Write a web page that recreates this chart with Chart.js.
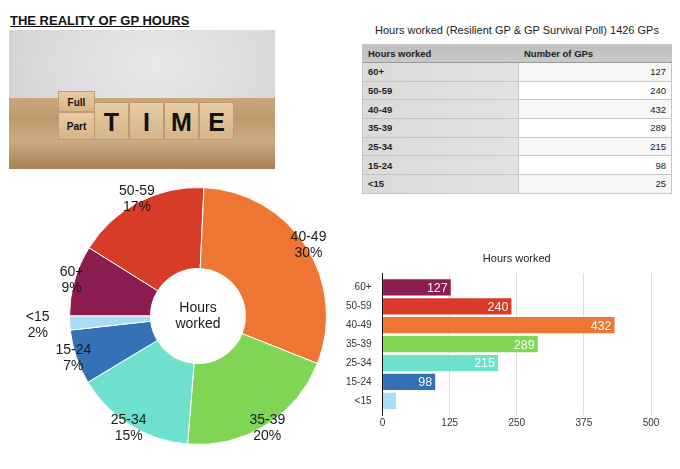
<!DOCTYPE html>
<html>
<head>
<meta charset="utf-8">
<script src="https://cdn.jsdelivr.net/npm/chart.js@4.4.1/dist/chart.umd.min.js"></script>
<style>
  html, body { margin: 0; padding: 0; background: #fff; }
  body { width: 680px; height: 469px; position: relative; overflow: hidden; font-family: "Liberation Sans", Arial, sans-serif; color: #222; }
  #heading { position: absolute; left: 10px; top: 13px; font-size: 13px; font-weight: bold; text-decoration: underline; color: #111; }
  #photo { position: absolute; left: 9px; top: 30px; width: 266px; height: 139px; overflow: hidden;
    background: radial-gradient(ellipse at 55% 25%, #e8e8e8, #dadada 55%, #cbcbcb); }
  #desk { position: absolute; left: 0; top: 68px; width: 266px; height: 71px;
    background: linear-gradient(to bottom, #caa67c, #bf9a6f 30%, #cdab82 60%, #b68f64 85%, #a88157); }
  .blk { position: absolute; box-sizing: border-box; border: 1px solid #bf9a6e;
    background: linear-gradient(to bottom, #e8cca3, #d6b488); text-align: center; font-weight: bold; color: #111; }
  .big { font-size: 25px; line-height: 38px; }
  .small { font-size: 10px; }
  #tblTitle { position: absolute; left: 340px; width: 354px; top: 24px; text-align: center; font-size: 11px; color: #222; }
  #tbl { position: absolute; left: 362px; top: 44px; width: 310px; border-collapse: collapse; font-size: 9.5px; }
  #tbl th, #tbl td { padding: 0 5px; border: 1px solid #c6c6c6; }
  #tbl th { height: 17px; background: linear-gradient(to bottom, #bfbfbf, #c9c9c9); text-align: left; font-weight: bold; color: #222; border-bottom: 1px solid #9a9a9a; }
  #tbl td { height: 17.7px; }
  #tbl td.cat { font-weight: bold; background: linear-gradient(to right, #dadada, #e2e2e2); width: 145px; }
  #tbl td.num { text-align: right; background: #fff; }
  #tbl tr:nth-child(even) td.num { background: #f6f6f6; }
  #donutBox { position: absolute; left: 0; top: 175px; width: 340px; height: 282px; }
  #barBox { position: absolute; left: 330px; top: 240px; width: 350px; height: 229px; }
</style>
</head>
<body>
<div id="heading">THE REALITY OF GP HOURS</div>
<div id="photo">
  <div id="desk"></div>
  <div class="blk small" style="left:49px;top:61px;width:37px;height:21px;line-height:21px;">Full</div>
  <div class="blk small" style="left:49px;top:82px;width:37px;height:28px;line-height:28px;">Part</div>
  <div class="blk big" style="left:85px;top:72px;width:35px;height:38px;">T</div>
  <div class="blk big" style="left:120px;top:72px;width:35px;height:38px;">I</div>
  <div class="blk big" style="left:155px;top:72px;width:35px;height:38px;">M</div>
  <div class="blk big" style="left:190px;top:72px;width:35px;height:38px;">E</div>
</div>

<div id="tblTitle">Hours worked (Resilient GP &amp; GP Survival Poll) 1426 GPs</div>
<table id="tbl"></table>

<div id="donutBox"><canvas id="donut"></canvas></div>
<div id="barBox"><canvas id="bars"></canvas></div>

<script>
const categories = ['60+', '50-59', '40-49', '35-39', '25-34', '15-24', '<15'];
const gpCounts = [127, 240, 432, 289, 215, 98, 25];
const sliceColours = ['#8c1d50', '#d83b27', '#ee7633', '#80d555', '#6de1cd', '#3471b5', '#a9dcf5'];
const xTicks = [0, 125, 250, 375, 500];
const centreText = ['Hours', 'worked'];

Chart.defaults.font.family = '"Liberation Sans", Arial, sans-serif';
Chart.defaults.color = '#222';

// table
const tbl = document.getElementById('tbl');
let rows = '<tr><th>Hours worked</th><th>Number of GPs</th></tr>';
categories.forEach((c, i) => {
    rows += '<tr><td class="cat">' + c.replace('<', '&lt;') + '</td><td class="num">' + gpCounts[i] + '</td></tr>';
});
tbl.innerHTML = rows;

const total = gpCounts.reduce((a, b) => a + b, 0);

// labels round the ring + text in the hole
const donutLabels = {
    id: 'donutLabels',
    afterDatasetsDraw(chart) {
        const ctx = chart.ctx;
        const arcs = chart.getDatasetMeta(0).data;
        ctx.save();
        ctx.font = '14px "Liberation Sans", Arial, sans-serif';
        ctx.fillStyle = '#1a1a1a';
        ctx.textAlign = 'center';
        ctx.textBaseline = 'middle';
        arcs.forEach((arc, i) => {
            const p = arc.getProps(['x', 'y', 'startAngle', 'endAngle', 'outerRadius']);
            const mid = (p.startAngle + p.endAngle) / 2;
            const pct = Math.round(gpCounts[i] / total * 100);
            const r = pct < 4 ? p.outerRadius + 32 : p.outerRadius + 3;
            const x = p.x + Math.cos(mid) * r;
            const y = p.y + Math.sin(mid) * r;
            ctx.fillText(categories[i], x, y - 8);
            ctx.fillText(pct + '%', x, y + 8);
        });
        const c = arcs[0];
        ctx.fillText(centreText[0], c.x, c.y - 8);
        ctx.fillText(centreText[1], c.x, c.y + 8);
        ctx.restore();
    }
};

new Chart(document.getElementById('donut'), {
    type: 'doughnut',
    data: {
        labels: categories,
        datasets: [{
            data: gpCounts,
            backgroundColor: sliceColours,
            borderColor: '#ffffff',
            borderWidth: 1
        }]
    },
    options: {
        responsive: true,
        maintainAspectRatio: false,
        animation: false,
        rotation: -90,
        cutout: '37%',
        layout: { padding: { top: 12, bottom: 12, left: 56 } },
        plugins: { legend: { display: false }, tooltip: { enabled: false } }
    },
    plugins: [donutLabels]
});

// value at the end of each bar
const barValues = {
    id: 'barValues',
    afterDatasetsDraw(chart) {
        const ctx = chart.ctx;
        ctx.save();
        ctx.font = '12.5px "Liberation Sans", Arial, sans-serif';
        ctx.fillStyle = 'rgba(255,255,255,0.95)';
        ctx.textAlign = 'right';
        ctx.textBaseline = 'middle';
        chart.getDatasetMeta(0).data.forEach((bar, i) => {
            if (bar.x - bar.base > 30) ctx.fillText(gpCounts[i], bar.x - 3, bar.y + 1);
        });
        ctx.restore();
    }
};

new Chart(document.getElementById('bars'), {
    type: 'bar',
    data: {
        labels: categories,
        datasets: [{
            data: gpCounts,
            backgroundColor: sliceColours,
            barPercentage: 0.86,
            categoryPercentage: 1
        }]
    },
    options: {
        indexAxis: 'y',
        responsive: true,
        maintainAspectRatio: false,
        animation: false,
        layout: { padding: { left: 5, right: 29, bottom: 38 } },
        scales: {
            x: {
                min: 0,
                max: 500,
                afterBuildTicks: (axis) => { axis.ticks = xTicks.map(v => ({ value: v })); },
                grid: { color: '#dedede', drawTicks: false },
                border: { display: false },
                ticks: { font: { size: 10 }, color: '#333', padding: 2 }
            },
            y: {
                // a bit more room above the first and below the last bar
                afterBuildTicks: (axis) => { axis._startValue -= 0.25; axis._valueRange += 0.5; },
                grid: { display: false, drawTicks: false },
                border: { display: true, color: '#111', width: 1 },
                ticks: { font: { size: 10 }, color: '#333', padding: 11 }
            }
        },
        plugins: {
            legend: { display: false },
            tooltip: { enabled: false },
            title: {
                display: true,
                fullSize: false,
                text: 'Hours worked',
                font: { size: 11, weight: 'normal' },
                color: '#222',
                padding: { top: 12, bottom: 8 }
            }
        }
    },
    plugins: [barValues]
});
</script>
</body>
</html>
